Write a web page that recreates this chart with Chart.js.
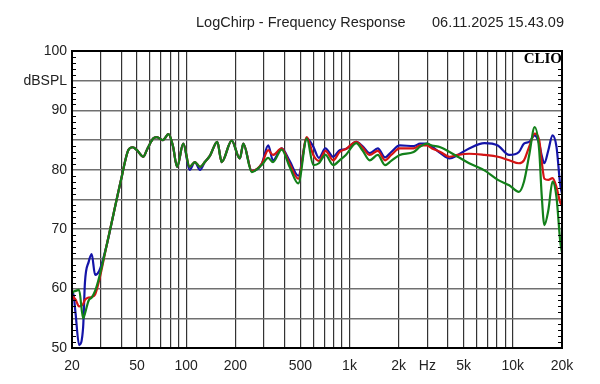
<!DOCTYPE html>
<html>
<head>
<meta charset="utf-8">
<script src="https://cdn.jsdelivr.net/npm/chart.js@4.4.0/dist/chart.umd.min.js"></script>
<style>
html, body { margin: 0; padding: 0; background: #fff; }
#wrap { width: 600px; height: 384px; }
</style>
</head>
<body>
<div id="wrap"><canvas id="fr" width="600" height="384"></canvas></div>
<script>
// frequency points (Hz) shared by the three traces
const freqs = [20, 20.3, 21, 22.1, 23.4, 24, 25.3, 26.4, 27.7, 29.4, 32.6, 36, 40, 44.2, 47, 50, 54.6, 58, 63, 66,
  72, 78, 83, 88, 96, 105, 113, 121.6, 130, 140, 155, 165, 190, 213, 224, 252, 290, 318, 340, 384,
  430, 486, 548, 600, 650, 712, 795, 870, 950, 1100, 1200, 1330, 1490, 1650, 1800, 2030, 2470, 2710, 2970, 3200,
  3600, 4100, 4600, 5400, 6700, 8100, 9500, 10900, 11700, 12600, 13600, 14500, 15000, 15600, 16500, 17500, 18500, 19500, 20000];

const blueDb = [59, 59.4, 56, 50.5, 53.5, 61, 64.5, 65.8, 62.3, 63, 67.3, 72.7, 78.4, 83.3, 83.8, 83.3, 82.2, 83.6, 85.3, 85.5,
  85, 86, 84, 80.5, 84.4, 80, 81.3, 80, 81.3, 82.4, 84.7, 81.3, 84.9, 81.9, 84.4, 79.8, 81, 84.1, 81.6, 83.6,
  81.5, 79, 85.3, 83.9, 82, 83.6, 82.2, 83.3, 83.5, 84.7, 84, 82.8, 83.6, 82.1, 83, 84.1, 84, 84.4, 84.4, 83.9,
  82.8, 81.9, 82.5, 83.6, 84.5, 84.1, 82.5, 83, 84.4, 84.7, 85.8, 84.4, 82.5, 81.1, 83.3, 85.8, 83.9, 77.5, 76];

const redDb = [58, 58.6, 58.2, 57, 57.4, 58.1, 58.5, 58.6, 59, 61.5, 67.3, 72.7, 78.4, 83.3, 83.8, 83.3, 82.2, 83.6, 85.3, 85.5,
  85, 86, 84, 80.5, 84.4, 80.5, 81.3, 80.5, 81.3, 82.4, 84.7, 81.3, 84.9, 81.9, 84.4, 79.8, 81, 83.3, 82.5, 83.6,
  81, 78.5, 85.5, 82.5, 81.5, 83.2, 81.6, 83, 83.5, 84.7, 83.8, 82.5, 83.2, 81.6, 82.5, 83.6, 83.6, 84.1, 84.1, 83.6,
  83, 82.2, 82.5, 82.7, 82.5, 82.2, 81.6, 81.1, 81.6, 83.9, 86.1, 85, 81.6, 78.5, 78.3, 78.6, 77.1, 74.5, 74];

const greenDb = [59, 59.4, 59.6, 59.8, 55, 55.8, 58, 58.5, 59.6, 62, 67.3, 72.7, 78.4, 83.3, 83.8, 83.3, 82.2, 83.6, 85.3, 85.5,
  85, 86, 84, 80.5, 84.4, 80.5, 81.3, 80.5, 81.3, 82.4, 84.7, 81.3, 84.9, 81.9, 84.4, 79.6, 80.8, 82, 81.3, 83.4,
  80.5, 77.7, 85.3, 80.8, 81.1, 82.5, 80.8, 81.6, 82.5, 84.5, 83.3, 81.6, 82.5, 80.8, 81.5, 82.5, 83, 83.9, 84.4, 84.1,
  83.8, 83, 82.2, 81.1, 79.9, 78.3, 77.4, 76.3, 78, 82.5, 87.2, 83.3, 76, 70.7, 73.2, 78, 75.4, 68, 66];

// vertical grid lines and their labels
const gridFreqs = [20, 30, 40, 50, 60, 70, 80, 90, 100, 200, 300, 400, 500, 600, 700, 800, 900,
  1000, 2000, 3000, 4000, 5000, 6000, 7000, 8000, 9000, 10000, 20000];
const xTickVals = [20, 50, 100, 200, 500, 1000, 2000, 3000, 5000, 10000, 20000];
const xTickText = ['20', '50', '100', '200', '500', '1k', '2k', 'Hz', '5k', '10k', '20k'];

const titleLeft = 'LogChirp - Frequency Response';
const titleRight = '06.11.2025 15.43.09';

const pts = arr => freqs.map((f, i) => ({ x: f, y: arr[i] }));
const font = '"Liberation Sans", Arial, sans-serif';

const decor = {
  id: 'decor',
  afterDraw(chart) {
    const { ctx, chartArea: a } = chart;
    const ys = chart.scales.y;
    ctx.save();
    // CLIO box
    ctx.fillStyle = '#fff';
    ctx.fillRect(519, a.top, a.right - 519, 15);
    // frame
    ctx.strokeStyle = '#000';
    ctx.lineWidth = 2;
    ctx.strokeRect(a.left, a.top, a.right - a.left, a.bottom - a.top);
    // minor ticks every 1 dB
    ctx.lineWidth = 1;
    ctx.beginPath();
    for (let v = 51; v < 100; v++) {
      if (v % 5 === 0) continue;
      const y = Math.round(ys.getPixelForValue(v)) + 0.5;
      ctx.moveTo(a.left, y); ctx.lineTo(a.left + 4, y);
      if (y > a.top + 16) { ctx.moveTo(a.right, y); ctx.lineTo(a.right - 4, y); }
    }
    ctx.stroke();
    ctx.fillStyle = '#000';
    ctx.font = 'bold 15px "Liberation Serif", "DejaVu Serif", serif';
    ctx.textAlign = 'right';
    ctx.textBaseline = 'middle';
    ctx.fillText('CLIO', a.right, a.top + 8);
    // title
    ctx.fillStyle = '#222';
    ctx.font = '14.5px ' + font;
    ctx.textAlign = 'left';
    ctx.fillText(titleLeft, 196, 23);
    ctx.textAlign = 'right';
    ctx.fillText(titleRight, 564, 23);
    ctx.restore();
  }
};

new Chart(document.getElementById('fr'), {
  type: 'line',
  data: {
    // first dataset is drawn on top
    datasets: [
      { data: pts(greenDb), borderColor: '#13801a' },
      { data: pts(redDb), borderColor: '#d41414' },
      { data: pts(blueDb), borderColor: '#1414a8' }
    ]
  },
  options: {
    responsive: false,
    animation: false,
    devicePixelRatio: 1,
    layout: { padding: { top: 51, right: 38, left: 0, bottom: 0 } },
    elements: {
      line: { borderWidth: 2.2, tension: 0.3, cubicInterpolationMode: 'monotone' },
      point: { radius: 0 }
    },
    plugins: { legend: { display: false }, tooltip: { enabled: false }, title: { display: false } },
    scales: {
      x: {
        type: 'logarithmic',
        min: 20,
        max: 20000,
        afterBuildTicks: s => { s.ticks = gridFreqs.map(v => ({ value: v })); },
        afterFit: s => { s.height = 36; },
        ticks: {
          autoSkip: false,
          maxRotation: 0,
          padding: 10,
          color: '#222',
          font: { family: font, size: 14 },
          callback: v => {
            const i = xTickVals.indexOf(v);
            return i >= 0 ? xTickText[i] : '';
          }
        },
        grid: { color: '#333', lineWidth: 1.2, drawTicks: false },
        border: { display: false }
      },
      y: {
        min: 50,
        max: 100,
        afterFit: s => { s.width = 72; },
        ticks: {
          stepSize: 5,
          padding: 5,
          color: '#222',
          font: { family: font, size: 14 },
          callback: v => v % 10 === 0 ? String(v) : (v === 95 ? 'dBSPL' : '')
        },
        grid: { color: '#707070', lineWidth: 1.5, drawTicks: false },
        border: { display: false }
      }
    }
  },
  plugins: [decor]
});
</script>
</body>
</html>
